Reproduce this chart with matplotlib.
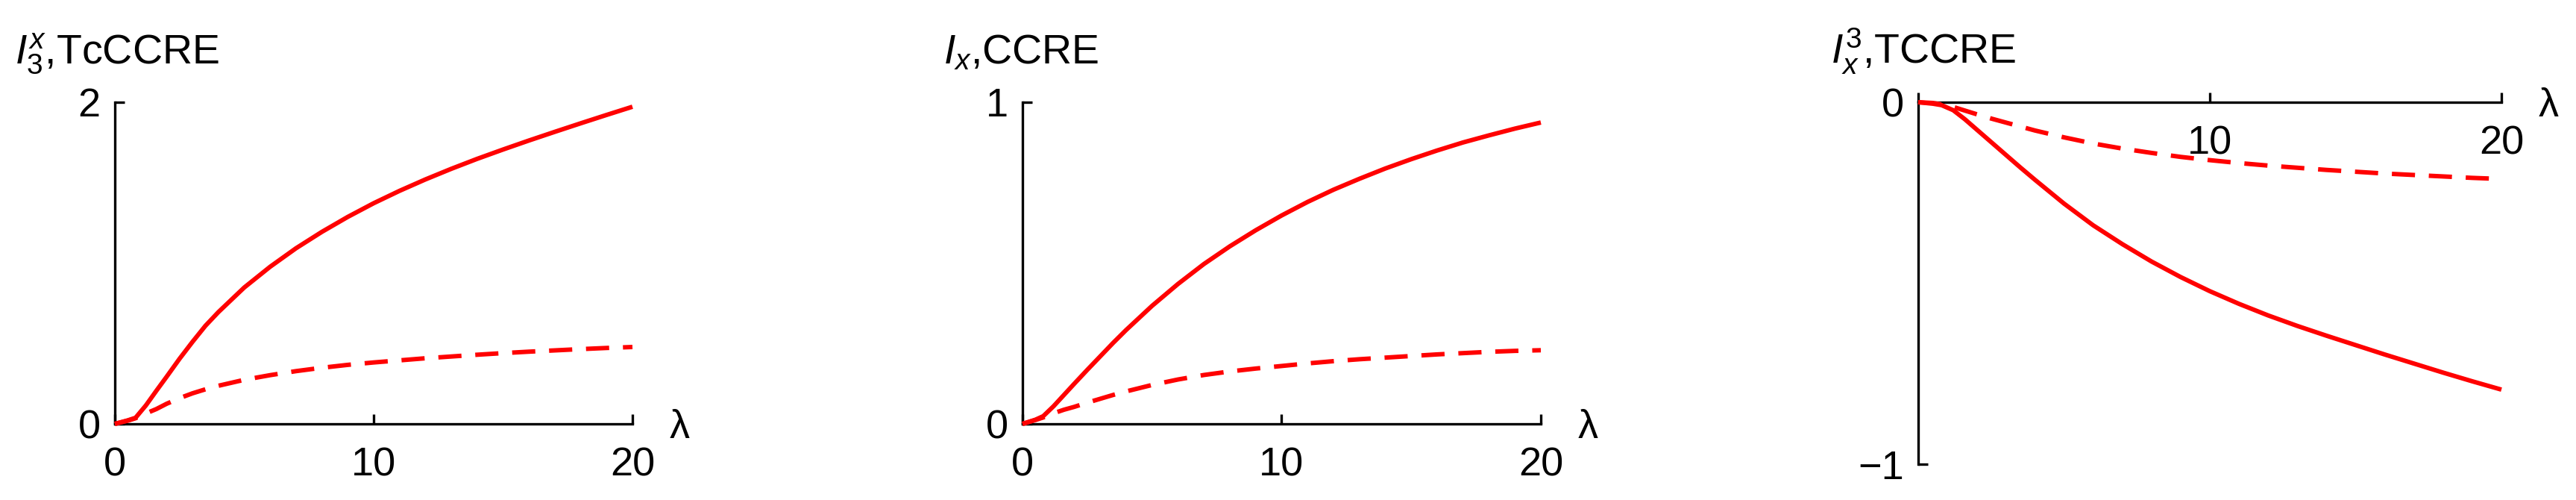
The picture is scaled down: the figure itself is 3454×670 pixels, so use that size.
import matplotlib
matplotlib.use("Agg")
import matplotlib.pyplot as plt

plt.rcParams['font.family'] = ['Liberation Sans', 'DejaVu Sans']
plt.rcParams['mathtext.fontset'] = 'custom'
plt.rcParams['mathtext.rm'] = 'Liberation Sans'
plt.rcParams['mathtext.it'] = 'Liberation Sans:italic'
plt.rcParams['mathtext.bf'] = 'Liberation Sans:bold'

# ---- data ----
lam = [0, 0.5, 0.8, 1.2, 1.6, 2, 2.5, 3, 3.5, 4, 5, 6, 7, 8, 9, 10, 11, 12, 13, 14, 15, 16, 17, 18, 19, 20]

tcccre_solid = [0, 0.022, 0.038, 0.115, 0.205, 0.293, 0.405, 0.51, 0.61, 0.695, 0.848, 0.977, 1.092,
                1.194, 1.287, 1.372, 1.449, 1.52, 1.586, 1.648, 1.706, 1.762, 1.816, 1.869, 1.921, 1.972]
tcccre_dashed = [0, 0.02, 0.035, 0.065, 0.092, 0.125, 0.16, 0.19, 0.215, 0.237, 0.274, 0.303, 0.328,
                 0.349, 0.367, 0.382, 0.395, 0.408, 0.419, 0.43, 0.44, 0.449, 0.457, 0.465, 0.472, 0.478]

ccre_solid = [0, 0.013, 0.024, 0.055, 0.09, 0.125, 0.168, 0.21, 0.252, 0.292, 0.367, 0.435, 0.497,
              0.552, 0.602, 0.648, 0.69, 0.728, 0.762, 0.794, 0.823, 0.85, 0.875, 0.897, 0.918, 0.937]
ccre_dashed = [0, 0.012, 0.02, 0.033, 0.044, 0.053, 0.066, 0.078, 0.09, 0.101, 0.121, 0.138, 0.152,
               0.163, 0.172, 0.18, 0.188, 0.195, 0.201, 0.206, 0.211, 0.216, 0.22, 0.224, 0.227, 0.229]

tccre_solid = [0, -0.004, -0.008, -0.022, -0.047, -0.075, -0.11, -0.145, -0.18, -0.214, -0.28, -0.34,
               -0.392, -0.44, -0.483, -0.522, -0.557, -0.589, -0.618, -0.645, -0.671, -0.697, -0.722,
               -0.747, -0.771, -0.794]
tccre_dashed = [0, -0.002, -0.006, -0.013, -0.023, -0.033, -0.045, -0.056, -0.067, -0.078, -0.097,
                -0.114, -0.128, -0.14, -0.151, -0.16, -0.168, -0.175, -0.181, -0.187, -0.192, -0.197,
                -0.201, -0.205, -0.209, -0.212]

titles = [r"$I_3^x$,TcCCRE", r"$I_x$,CCRE", r"$I_x^3$,TCCRE"]
xticks = [0, 10, 20]
xticklabels = [["0", "10", "20"], ["0", "10", "20"], ["", "10", "20"]]
yticks = [[0, 2], [0, 1], [-1, 0]]
ylims = [(0, 2), (0, 1), (-1, 0)]
series = [(tcccre_solid, tcccre_dashed), (ccre_solid, ccre_dashed), (tccre_solid, tccre_dashed)]

W, H = 3455, 670
fig = plt.figure(figsize=(W / 100, H / 100), dpi=100)

# axes boxes in pixels: (x0, x20, y_top, y_bottom)
boxes = [(154, 848, 137, 568), (1371, 2066, 137, 568), (2572, 3354, 137, 622)]
title_x = [20, 1265, 2455]
title_base = 85

red = '#ff0000'
lw = 4.3
for i, (x0, x1, yt, yb) in enumerate(boxes):
    ax = fig.add_axes([x0 / W, (H - yb) / H, (x1 - x0) / W, (yb - yt) / H])
    s, d = series[i]
    ax.plot(lam, s, color=red, lw=lw, clip_on=False, solid_capstyle='butt',
            solid_joinstyle='round', zorder=3)
    ax.plot(lam, d, color=red, lw=lw, clip_on=False, dashes=(5.2, 3.1), zorder=3)
    ax.set_xlim(0, 20)
    ax.set_ylim(*ylims[i])
    for sp in ['top', 'right']:
        ax.spines[sp].set_visible(False)
    for sp in ['left', 'bottom']:
        ax.spines[sp].set_linewidth(2.4)
    if i == 2:
        ax.spines['bottom'].set_position(('data', 0))
    ax.set_xticks(xticks)
    ax.set_xticklabels(xticklabels[i])
    ax.set_yticks(yticks[i])
    ax.set_yticklabels([("\u2212" + str(abs(v))) if v < 0 else str(v) for v in yticks[i]])
    ax.tick_params(axis='both', direction='in', length=9.4, width=2.4, labelsize=39)
    ax.tick_params(axis='x', pad=22)
    ax.tick_params(axis='y', pad=14)
    ax.patch.set_alpha(0)
    ax.annotate("\u03bb", xy=(20, 0), xycoords='data', xytext=(50, -19),
                textcoords='offset pixels', ha='left', va='baseline', fontsize=39,
                annotation_clip=False)
    fig.text(title_x[i] / W, (H - title_base) / H, titles[i], fontsize=40,
             ha='left', va='baseline')

fig.savefig("out.png", dpi=100)
